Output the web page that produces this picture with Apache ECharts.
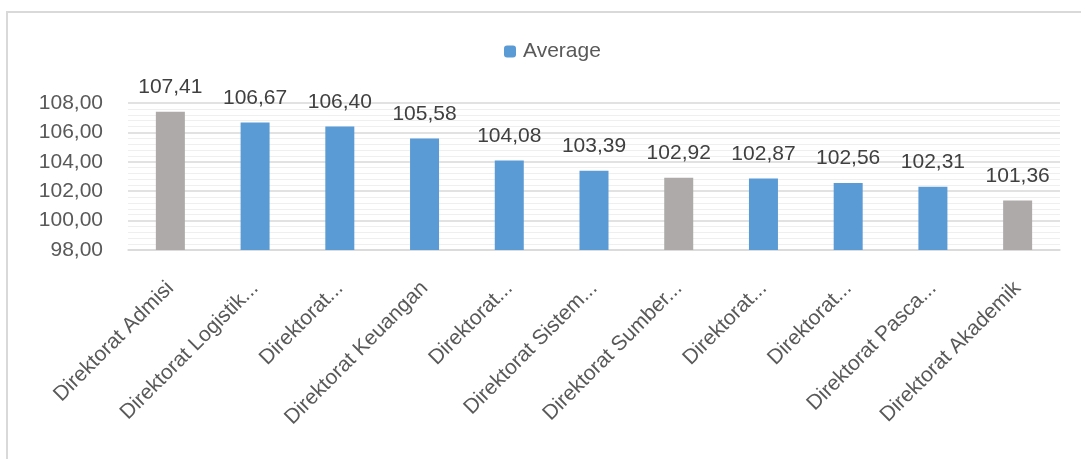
<!DOCTYPE html>
<html><head><meta charset="utf-8">
<script src="https://cdn.jsdelivr.net/npm/echarts@6/dist/echarts.min.js"></script>
<style>html,body{margin:0;padding:0;background:#fff}#c{width:1081px;height:459px}</style>
</head><body><div id="c"></div>
<script>
const categories = ["Direktorat Admisi","Direktorat Logistik...","Direktorat...","Direktorat Keuangan","Direktorat...","Direktorat Sistem...","Direktorat Sumber...","Direktorat...","Direktorat...","Direktorat Pasca...","Direktorat Akademik"];
const averageValues = [107.41,106.67,106.40,105.58,104.08,103.39,102.92,102.87,102.56,102.31,101.36];
const highlighted = [true,false,false,false,false,false,true,false,false,false,true];
const seriesName = "Average";
const yMin = 98, yMax = 108, yInterval = 2;

const FONT = "Liberation Sans";
const blue = "#5b9bd5", gray = "#aeaaaa";
const fmt = v => v.toFixed(2).replace('.', ',');

const chart = echarts.init(document.getElementById('c'), null, {renderer:'canvas'});
chart.setOption({
  animation:false,
  textStyle:{fontFamily:FONT},
  graphic:[{type:'rect',shape:{x:7,y:12,width:1200,height:600},style:{fill:'none',stroke:'#d9d9d9',lineWidth:2},silent:true}],
  legend:{top:41,left:504,padding:0,itemWidth:12,itemHeight:12,itemGap:5,
    textStyle:{fontFamily:FONT,fontSize:21,color:'#595959',padding:[0,0,0,2]},data:[seriesName]},
  grid:{left:128,right:21,top:103,bottom:209,containLabel:false},
  xAxis:{type:'category',data:categories,
    axisLine:{lineStyle:{color:'#d9d9d9',width:1.5}},axisTick:{show:false},
    axisLabel:{rotate:45,interval:0,fontSize:21,color:'#595959',fontFamily:FONT,margin:35}},
  yAxis:{type:'value',min:yMin,max:yMax,interval:yInterval,
    axisLine:{show:false},axisTick:{show:false},
    axisLabel:{formatter:v=>fmt(v),fontSize:21,color:'#595959',fontFamily:FONT,margin:25},
    splitLine:{lineStyle:{color:'#d9d9d9',width:1.5}},
    minorTick:{show:false,splitNumber:5},
    minorSplitLine:{show:true,lineStyle:{color:'#efefef',width:1}}},
  series:[{name:seriesName,type:'bar',barWidth:29,
    itemStyle:{color:blue},
    data:averageValues.map((v,i)=>({value:v,itemStyle:{color:highlighted[i]?gray:blue}})),
    label:{show:true,position:'top',distance:14,formatter:p=>fmt(p.value),fontSize:21,color:'#404040',fontFamily:FONT}}]
});
</script></body></html>
